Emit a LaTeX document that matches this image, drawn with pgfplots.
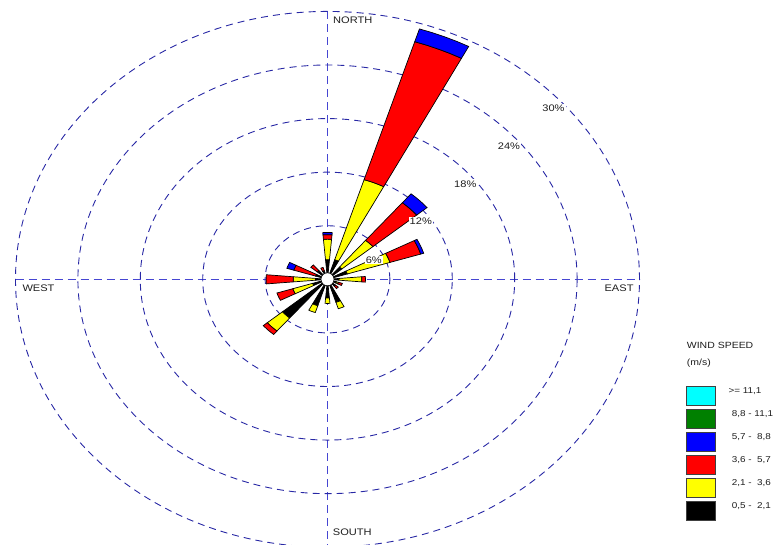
\documentclass[border=0pt]{standalone}
\usepackage{pgfplots}
\pgfplotsset{compat=1.18}
\usepackage{graphicx}
\usepackage{fontspec}
\setmainfont{Liberation Sans}
\definecolor{ringc}{RGB}{40,40,165}
\definecolor{crossc}{RGB}{70,70,210}
\definecolor{dgreen}{RGB}{0,128,0}
\definecolor{wcyan}{RGB}{0,255,255}
\definecolor{wblue}{RGB}{0,0,255}
\definecolor{wred}{RGB}{255,0,0}
\definecolor{wyellow}{RGB}{255,255,0}
\definecolor{txt}{RGB}{30,30,30}
\newcommand\st[2]{{\fontsize{#1}{#1}\selectfont\scalebox{1.165}[1]{#2}}}
% one sector segment: bearing, r0, r1, colour
\newcommand\seg[4]{%
  \pgfmathsetmacro\aA{90-#1-5}%
  \pgfmathsetmacro\aB{90-#1-2.5}%
  \pgfmathsetmacro\aC{90-#1}%
  \pgfmathsetmacro\aD{90-#1+2.5}%
  \pgfmathsetmacro\aE{90-#1+5}%
  \edef\tmp{\noexpand\addplot[draw=black,line width=0.7pt,line join=miter,fill=#4,data cs=polar] coordinates {(\aA,#2) (\aA,#3) (\aB,#3) (\aC,#3) (\aD,#3) (\aE,#3) (\aE,#2) (\aD,#2) (\aC,#2) (\aB,#2)} -- cycle;}%
  \tmp}
% bearing, 0.5-2.1, 2.1-3.6, 3.6-5.7, 5.7-8.8 (percent)
\newcommand\windbar[5]{%
  \pgfmathsetmacro\rA{#2}%
  \pgfmathsetmacro\rB{#2+#3}%
  \pgfmathsetmacro\rC{#2+#3+#4}%
  \pgfmathsetmacro\rD{#2+#3+#4+#5}%
  \seg{#1}{0}{\rA}{black}%
  \ifdim #3pt>0pt \seg{#1}{\rA}{\rB}{wyellow}\fi
  \ifdim #4pt>0pt \seg{#1}{\rB}{\rC}{wred}\fi
  \ifdim #5pt>0pt \seg{#1}{\rC}{\rD}{wblue}\fi
}
\begin{document}
\begin{tikzpicture}
\useasboundingbox (0,0) rectangle (775pt,545pt);
\clip (0,0) rectangle (775pt,545pt);
% cross lines
\draw[draw=crossc, line width=0.9pt, dash pattern=on 8pt off 5pt] (15.5pt,265.7pt) -- (639.5pt,265.7pt);
\draw[draw=crossc, line width=0.9pt, dash pattern=on 8pt off 5pt] (327.5pt,533.7pt) -- (327.5pt,-2pt);
\begin{axis}[at={(0,0)}, anchor=south west, scale only axis,
  width=775pt, height=545pt,
  xmin=-31.49, xmax=43.03, ymin=-29.75, ymax=31.28,
  hide axis, clip=true]
\draw[color=ringc, line width=0.9pt, dash pattern=on 7pt off 5pt] (axis cs:0,0) ellipse [x radius=6, y radius=6];
\draw[color=ringc, line width=0.9pt, dash pattern=on 7pt off 5pt] (axis cs:0,0) ellipse [x radius=12, y radius=12];
\draw[color=ringc, line width=0.9pt, dash pattern=on 7pt off 5pt] (axis cs:0,0) ellipse [x radius=18, y radius=18];
\draw[color=ringc, line width=0.9pt, dash pattern=on 7pt off 5pt] (axis cs:0,0) ellipse [x radius=24, y radius=24];
\draw[color=ringc, line width=0.9pt, dash pattern=on 7pt off 5pt] (axis cs:0,0) ellipse [x radius=30, y radius=30];
% bearing, black, yellow, red, blue
\windbar{0}{2.2}{2.3}{0.5}{0.25}
\windbar{22.5}{2.3}{9.4}{16.2}{1.5}
\windbar{45}{1.8}{3.9}{5.5}{1.3}
\windbar{67.5}{2.0}{4.3}{3.1}{0.3}
\windbar{90}{1.1}{2.2}{0.35}{0}
\windbar{112.5}{0.9}{0.2}{0.4}{0}
\windbar{135}{1.0}{0}{0.35}{0}
\windbar{157.5}{2.7}{0.75}{0}{0}
\windbar{180}{2.1}{0.6}{0}{0}
\windbar{202.5}{3.1}{0.8}{0}{0}
\windbar{225}{5.66}{1.9}{0.5}{0}
\windbar{247.5}{1.5}{2.0}{1.6}{0}
\windbar{270}{1.15}{2.15}{2.6}{0}
\windbar{292.5}{1.2}{0}{2.2}{0.7}
\windbar{315}{1.3}{0}{0.8}{0}
\windbar{337.5}{1.0}{0}{0.4}{0}
\end{axis}
% calm circle
\draw[fill=white, line width=0.6pt] (327.5pt,265.7pt) circle (6.5pt);
% compass labels
\begin{scope}[every node/.style={inner sep=0pt, text=txt}]
\node[anchor=west] at (333pt,524.5pt) {\st{9.5}{NORTH}};
\node[anchor=west] at (22.3pt,256.8pt) {\st{9.5}{WEST}};
\node[anchor=east] at (633.7pt,256.8pt) {\st{9.5}{EAST}};
\node[anchor=west] at (332.7pt,12.5pt) {\st{9.5}{SOUTH}};
\end{scope}
% ring labels
\begin{scope}[every node/.style={inner sep=1pt, fill=white, text=txt}]
\node at (373.8pt,285pt) {\st{9.5}{6\%}};
\node at (420.8pt,323.3pt) {\st{9.5}{12\%}};
\node at (465.3pt,361.2pt) {\st{9.5}{18\%}};
\node at (509pt,398.8pt) {\st{9.5}{24\%}};
\node at (553.5pt,437.1pt) {\st{9.5}{30\%}};
\end{scope}
% legend
\begin{scope}[every node/.style={inner sep=0pt, text=txt, anchor=west}]
\node at (686.7pt,199.7pt) {\st{9}{WIND SPEED}};
\node at (686.7pt,181.7pt) {\st{9}{(m/s)}};
\draw[draw=darkgray, line width=0.7pt, fill=wcyan]   (686.7pt,159pt) rectangle (715pt,140pt);
\draw[draw=darkgray, line width=0.7pt, fill=dgreen]  (686.7pt,136pt) rectangle (715pt,117pt);
\draw[draw=darkgray, line width=0.7pt, fill=wblue]   (686.7pt,113pt) rectangle (715pt,94pt);
\draw[draw=darkgray, line width=0.7pt, fill=wred]    (686.7pt,90pt) rectangle (715pt,71pt);
\draw[draw=darkgray, line width=0.7pt, fill=wyellow] (686.7pt,67pt) rectangle (715pt,48pt);
\draw[draw=darkgray, line width=0.7pt, fill=black]   (686.7pt,44pt) rectangle (715pt,25pt);
\node at (728.3pt,154pt) {\st{8.5}{>= 11,1}};
\node at (731.7pt,131pt) {\st{8.5}{8,8 - 11,1}};
\node at (731.7pt,108pt) {\st{8.5}{5,7 -\ \ 8,8}};
\node at (731.7pt,85pt) {\st{8.5}{3,6 -\ \ 5,7}};
\node at (731.7pt,62pt) {\st{8.5}{2,1 -\ \ 3,6}};
\node at (731.7pt,39pt) {\st{8.5}{0,5 -\ \ 2,1}};
\end{scope}
\end{tikzpicture}
\end{document}
